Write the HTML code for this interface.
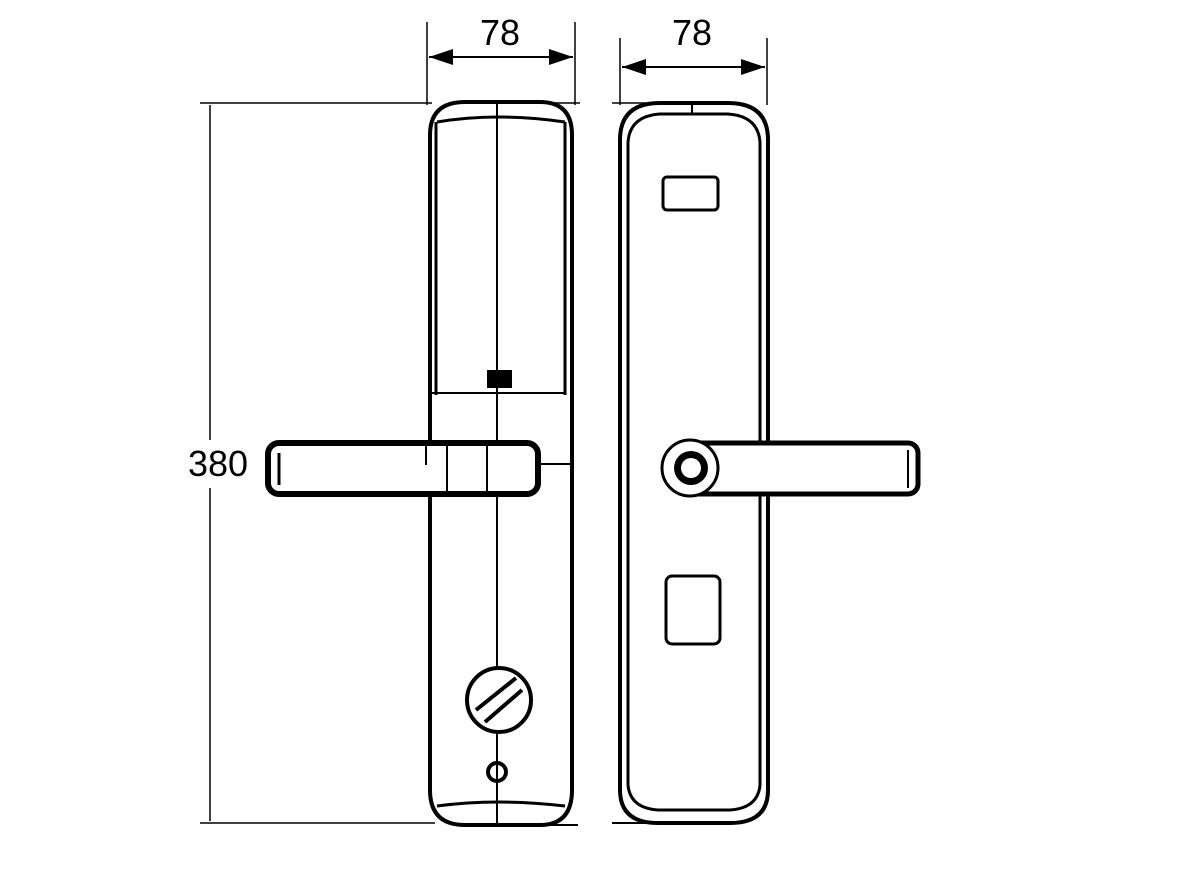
<!DOCTYPE html>
<html><head><style>body{margin:0;background:#fff}svg{display:block}</style></head><body>
<svg width="1180" height="870" viewBox="0 0 1180 870" xmlns="http://www.w3.org/2000/svg">
<defs><marker id="a" viewBox="0 0 12 8" refX="12" refY="4" markerWidth="12" markerHeight="8" orient="auto-start-reverse"><path d="M0,0L12,4L0,8z" fill="#000"/></marker></defs>
<g stroke="#000" fill="none">
<line x1="427" y1="22" x2="427" y2="105" stroke-width="1.5"/>
<line x1="575" y1="22" x2="575" y2="105" stroke-width="1.5"/>
<line x1="429" y1="57" x2="573" y2="57" stroke-width="2" marker-start="url(#a)" marker-end="url(#a)"/>
<line x1="620" y1="38" x2="620" y2="105" stroke-width="1.5"/>
<line x1="767" y1="38" x2="767" y2="105" stroke-width="1.5"/>
<line x1="622" y1="67" x2="765" y2="67" stroke-width="2" marker-start="url(#a)" marker-end="url(#a)"/>
<line x1="200" y1="103" x2="432" y2="103" stroke-width="1.5"/>
<line x1="200" y1="823" x2="435" y2="823" stroke-width="1.5"/>
<line x1="210" y1="105" x2="210" y2="440" stroke-width="1.5"/>
<line x1="210" y1="488" x2="210" y2="821" stroke-width="1.5"/>
<line x1="535" y1="103" x2="580" y2="103" stroke-width="1.5"/>
<line x1="535" y1="825" x2="578" y2="825" stroke-width="2"/>
<line x1="612" y1="103" x2="700" y2="103" stroke-width="1.5"/>
<line x1="612" y1="823" x2="690" y2="823" stroke-width="2"/>
<path d="M430,135 Q430,102 465,102 L540,102 Q572,102 572,135 L572,790 Q572,825 540,825 L465,825 Q430,825 430,790 Z" stroke-width="4"/>
<path d="M437,122 Q497,112 565,122" stroke-width="3"/>
<path d="M437,806 Q497,798 565,806" stroke-width="3"/>
<line x1="436" y1="122" x2="436" y2="395" stroke-width="3"/>
<line x1="565" y1="122" x2="565" y2="395" stroke-width="3"/>
<line x1="432" y1="393" x2="566" y2="393" stroke-width="2"/>
<line x1="497" y1="102" x2="497" y2="825" stroke-width="2"/>
<rect x="487" y="370" width="25" height="18" fill="#000" stroke="none"/>
<rect x="268" y="443" width="270" height="51" rx="11" fill="#fff" stroke-width="6"/>
<line x1="279" y1="453" x2="279" y2="485" stroke-width="3"/>
<line x1="447" y1="446" x2="447" y2="492" stroke-width="2"/>
<line x1="487" y1="446" x2="487" y2="492" stroke-width="2"/>
<line x1="426" y1="446" x2="426" y2="465" stroke-width="2"/>
<line x1="538" y1="464" x2="570" y2="464" stroke-width="2"/>
<circle cx="499" cy="700" r="32" fill="#fff" stroke-width="4"/>
<line x1="476" y1="710" x2="516" y2="678" stroke-width="4"/>
<line x1="485" y1="722" x2="522" y2="690" stroke-width="4"/>
<circle cx="497" cy="772" r="9" stroke-width="4"/>
<path d="M620,140 Q620,103 660,103 L728,103 Q768,103 768,140 L768,790 Q768,823 730,823 L658,823 Q620,823 620,790 Z" stroke-width="4"/>
<path d="M628,142 Q630,116 660,114 L728,114 Q758,116 760,142 L760,785 Q758,808 730,810 L658,810 Q630,808 628,785 Z" stroke-width="3"/>
<line x1="692" y1="103" x2="692" y2="114" stroke-width="2"/>
<rect x="663" y="177" width="55" height="33" rx="4" stroke-width="3"/>
<rect x="666" y="576" width="54" height="68" rx="6" stroke-width="3"/>
<rect x="688" y="443" width="230" height="51" rx="10" fill="#fff" stroke-width="5"/>
<circle cx="690" cy="468" r="28" fill="#fff" stroke-width="3"/>
<circle cx="691" cy="468" r="17" fill="#000" stroke="none"/>
<circle cx="691" cy="468" r="10" fill="#fff" stroke="none"/>
<line x1="908" y1="450" x2="908" y2="488" stroke-width="2"/>
</g>
<g font-family="Liberation Sans, sans-serif" font-size="36" fill="#000">
<text x="500" y="45" text-anchor="middle">78</text>
<text x="692" y="45" text-anchor="middle">78</text>
<text x="218" y="476" text-anchor="middle">380</text>
</g>
</svg>
</body></html>
